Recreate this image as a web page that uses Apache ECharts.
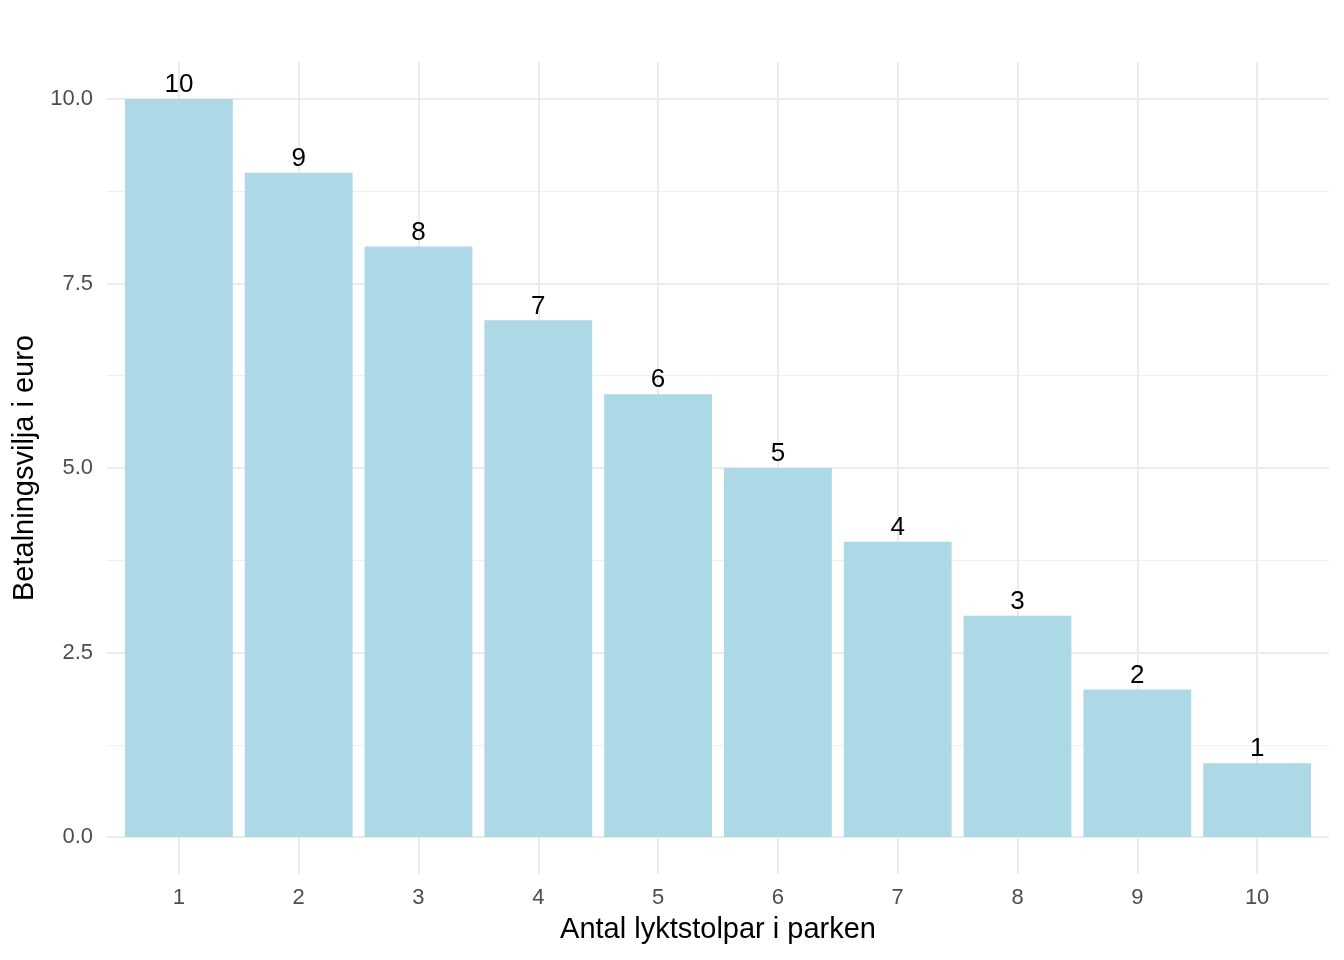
<!DOCTYPE html>
<html>
<head>
<meta charset="utf-8" />
<script src="https://cdn.jsdelivr.net/npm/echarts@6/dist/echarts.min.js"></script>
<title>Betalningsvilja</title>
<style>
  html, body { margin: 0; padding: 0; background: #fff; }
  #main { width: 1344px; height: 960px; }
</style>
</head>
<body>
<div id="main"></div>
<script>
var antal = [1, 2, 3, 4, 5, 6, 7, 8, 9, 10];
var betalning = [10, 9, 8, 7, 6, 5, 4, 3, 2, 1];
var yBreaks = [0, 2.5, 5, 7.5, 10];
var yMinorBreaks = [1.25, 3.75, 6.25, 8.75];

var chart = echarts.init(document.getElementById('main'));

// bars as [x, y] pairs on a continuous x scale
var barData = [];
for (var i = 0; i < antal.length; i++) {
  barData.push([antal[i], betalning[i]]);
}

var font = '"Liberation Sans", Arial, sans-serif';

var option = {
  backgroundColor: '#ffffff',
  animation: false,
  grid: { left: 107, right: 15, top: 62, bottom: 86, containLabel: false },
  xAxis: {
    type: 'value',
    min: 0.4,
    max: 10.6,
    name: 'Antal lyktstolpar i parken',
    nameLocation: 'middle',
    nameGap: 41,
    nameTextStyle: { color: '#000', fontSize: 29, fontFamily: font },
    axisLine: { show: false },
    axisTick: { show: false, customValues: antal },
    axisLabel: { customValues: antal, color: '#4d4d4d', fontSize: 22, fontFamily: font, margin: 13 },
    splitLine: { show: true, lineStyle: { color: '#ebebeb', width: 2 } }
  },
  yAxis: [
    {
      type: 'value',
      min: -0.5,
      max: 10.5,
      name: 'Betalningsvilja i euro',
      nameLocation: 'middle',
      nameGap: 63,
      nameRotate: 90,
      nameTextStyle: { color: '#000', fontSize: 29, fontFamily: font },
      axisLine: { show: false },
      axisTick: { show: false, customValues: yBreaks },
      axisLabel: {
        customValues: yBreaks, color: '#4d4d4d', fontSize: 22, fontFamily: font, margin: 14,
        formatter: function (v) { return v.toFixed(1); }
      },
      splitLine: { show: true, lineStyle: { color: '#ebebeb', width: 2 } }
    },
    {
      // minor grid lines only
      type: 'value',
      min: -0.5,
      max: 10.5,
      position: 'right',
      axisLine: { show: false },
      axisTick: { show: false, customValues: yMinorBreaks },
      axisLabel: { show: false },
      splitLine: { show: true, lineStyle: { color: '#f0f0f0', width: 1 } }
    }
  ],
  series: [
    {
      type: 'bar',
      yAxisIndex: 0,
      data: barData,
      barWidth: '90%',
      itemStyle: { color: '#add8e6' },
      label: {
        show: true,
        position: 'top',
        distance: 1,
        color: '#000',
        fontSize: 26,
        fontFamily: font,
        formatter: function (p) { return p.value[1]; }
      }
    }
  ]
};

chart.setOption(option);
</script>
</body>
</html>
